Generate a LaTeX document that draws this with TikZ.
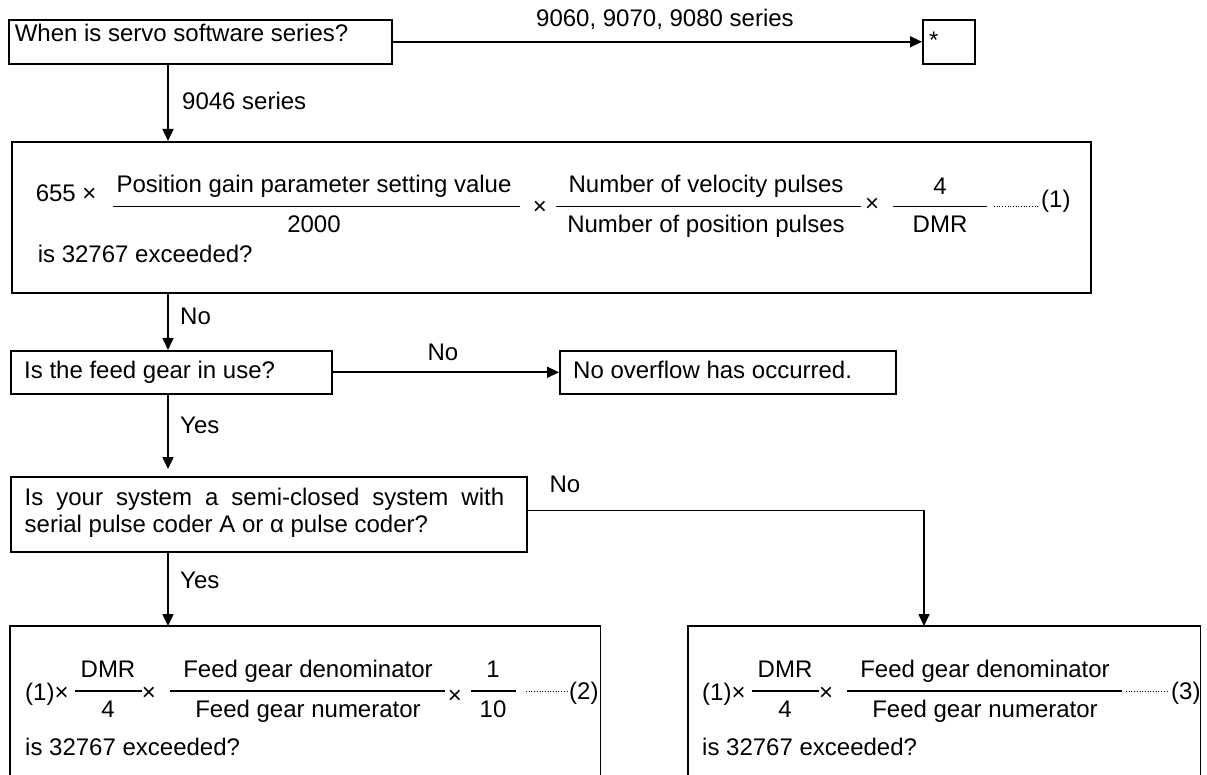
\documentclass[tikz,border=0pt]{standalone}
\usepackage{fontspec}
\setmainfont{Liberation Sans}
\usetikzlibrary{arrows.meta,calc}
\begin{document}
\begin{tikzpicture}[x=1pt,y=-1pt,
  font=\fontsize{24}{27}\selectfont,
  box/.style={draw, line width=1.6pt, inner sep=0pt, anchor=north west},
  shell/.style={inner sep=0pt, anchor=north west},
  txt/.style={inner sep=0pt, anchor=base west},
  ctxt/.style={inner sep=0pt, anchor=base},
  conn/.style={line width=1.6pt},
  arr/.style={conn, -{Triangle[length=12pt,width=11pt]}},
  fracrule/.style={line width=1.3pt},
  leader/.style={line width=1pt, dash pattern=on 1pt off 1.7pt}]

\useasboundingbox (0,0) rectangle (1207,775);
\coordinate (spine) at (168,0);
\coordinate (drop) at (924,0);

% decision and result boxes
\node[box, minimum width=383pt, minimum height=44pt] (b1) at (8,19) {};
\node[box, minimum width=52pt, minimum height=44pt] (star) at (922,19) {};
\node[box, minimum width=1079pt, minimum height=151pt] (b2) at (11,141) {};
\node[box, minimum width=321pt, minimum height=43pt] (b3) at (10,350) {};
\node[box, minimum width=336pt, minimum height=43pt] (b4) at (559,350) {};
\node[box, minimum width=516pt, minimum height=75pt] (b5) at (10,476) {};
\node[shell, minimum width=590pt, minimum height=149pt] (b6) at (10,626) {};
\node[shell, minimum width=512pt, minimum height=149pt] (b7) at (688,626) {};
\draw[conn] (b6.south west) -- (b6.north west) -- (b6.north east) -- (b6.south east);
\draw[conn] (b7.south west) -- (b7.north west) -- (b7.north east) -- (b7.south east);

% box texts
\node[txt] (t1) at (14.6,42) {When is servo software series?};
\node[txt] (tstar) at (929,49) {*};
\node[txt] (t3) at (24,378) {Is the feed gear in use?};
\node[txt] (t4) at (573,378) {No overflow has occurred.};
\node[txt] (t5a) at (24.5,505) {\makebox[479.5pt][s]{Is your system a semi-closed system with}};
\node[txt] (t5b) at (24.5,532) {serial pulse coder A or α pulse coder?};

% formula (1)
\node[txt] (f1a) at (35.6,202) {655 ×};
\draw[fracrule] (112.7,206.7) coordinate (r1a) -- (520,206.7) coordinate (r1b);
\node[ctxt] (f1n) at (314,193) {Position gain parameter setting value};
\node[ctxt] (f1d) at (314,233) {2000};
\node[ctxt] (f1x) at (540,215) {×};
\draw[fracrule] (555.6,206.7) coordinate (r2a) -- (861,206.7) coordinate (r2b);
\node[ctxt] (f2n) at (706,193) {Number of velocity pulses};
\node[ctxt] (f2d) at (706,233) {Number of position pulses};
\node[ctxt] (f2x) at (872,212) {×};
\draw[fracrule] (893,206.7) coordinate (r3a) -- (987,206.7) coordinate (r3b);
\node[ctxt] (f3n) at (940,195) {4};
\node[ctxt] (f3d) at (940,233) {DMR};
\draw[leader] (994,207) coordinate (l1a) -- (1039,207) coordinate (l1b);
\node[txt] (f1tag) at (1041,208) {(1)};
\node[txt] (f1q) at (37.6,263) {is 32767 exceeded?};

% formula (2)
\node[txt] (g1a) at (25,700) {(1)×};
\draw[fracrule] (75,691) coordinate (s1a) -- (142,691) coordinate (s1b);
\node[ctxt] (g1n) at (108,677) {DMR};
\node[ctxt] (g1d) at (108,717) {4};
\node[ctxt] (g1x) at (149,700) {×};
\draw[fracrule] (170,691) coordinate (s2a) -- (445,691) coordinate (s2b);
\node[ctxt] (g2n) at (308,677) {Feed gear denominator};
\node[ctxt] (g2d) at (308,717) {Feed gear numerator};
\node[ctxt] (g2x) at (455,703) {×};
\draw[fracrule] (471,691) coordinate (s3a) -- (516,691) coordinate (s3b);
\node[ctxt] (g3n) at (493,677) {1};
\node[ctxt] (g3d) at (493,717) {10};
\draw[leader] (526,691) coordinate (l2a) -- (568,691) coordinate (l2b);
\node[txt] (g2tag) at (569,699) {(2)};
\node[txt] (g2q) at (25,755) {is 32767 exceeded?};

% formula (3)
\node[txt] (h1a) at (702,700) {(1)×};
\draw[fracrule] (752,691) coordinate (u1a) -- (819,691) coordinate (u1b);
\node[ctxt] (h1n) at (785,677) {DMR};
\node[ctxt] (h1d) at (785,717) {4};
\node[ctxt] (h1x) at (826,700) {×};
\draw[fracrule] (847,691) coordinate (u2a) -- (1122,691) coordinate (u2b);
\node[ctxt] (h2n) at (985,677) {Feed gear denominator};
\node[ctxt] (h2d) at (985,717) {Feed gear numerator};
\draw[leader] (1126,691) coordinate (l3a) -- (1169,691) coordinate (l3b);
\node[txt] (h3tag) at (1171,699) {(3)};
\node[txt] (h2q) at (702,755) {is 32767 exceeded?};

% connectors
\coordinate (b5out) at ($(b5.east)+(0,-4)$);
\draw[arr] (b1.east) -- (star.west);
\draw[arr] (b1.south -| spine) -- (b2.north -| spine);
\draw[arr] (b2.south -| spine) -- (b3.north -| spine);
\draw[arr] (b3.east) -- (b4.west);
\draw[arr, shorten >=7pt] (b3.south -| spine) -- (b5.north -| spine);
\draw[arr] (b5.south -| spine) -- (b6.north -| spine);
\draw[arr] (b5out) -| (b7.north -| drop);

% connector labels
\node[txt] (c1) at (536,27) {9060, 9070, 9080 series};
\node[txt] (c2) at (182,110) {9046 series};
\node[txt] (c3) at (180,325) {No};
\node[ctxt] (c4) at (443,360) {No};
\node[txt] (c5) at (180,433) {Yes};
\node[ctxt] (c6) at (565,492) {No};
\node[txt] (c7) at (180,588) {Yes};
\end{tikzpicture}
\end{document}
